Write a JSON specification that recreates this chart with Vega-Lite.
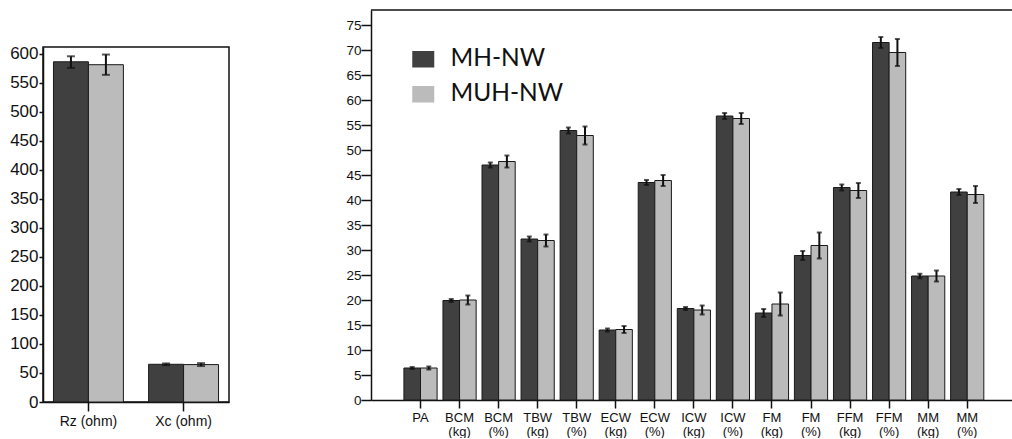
{
  "$schema": "https://vega.github.io/schema/vega-lite/v6.json",
  "padding": {"left": 8, "top": 9, "right": 0, "bottom": 0},
  "background": "white",
  "config": {
    "view": {"stroke": null},
    "axis": {"labelFont": "Liberation Sans", "titleFont": "Liberation Sans", "domainColor": "#111", "tickColor": "#111", "labelColor": "#111", "domainWidth": 1.5, "tickWidth": 1.5, "grid": false}
  },
  "datasets": {
    "imp": [
      {"cat": "Rz (ohm)", "grp": "MH-NW", "mean": 586.5, "lo": 576, "hi": 596},
      {"cat": "Rz (ohm)", "grp": "MUH-NW", "mean": 581.5, "lo": 564, "hi": 599},
      {"cat": "Xc (ohm)", "grp": "MH-NW", "mean": 65, "lo": 63.5, "hi": 66.5},
      {"cat": "Xc (ohm)", "grp": "MUH-NW", "mean": 64.5, "lo": 62, "hi": 67}
    ],
    "comp": [
      {"cat": "PA", "grp": "MH-NW", "mean": 6.4, "lo": 6.2, "hi": 6.6},
      {"cat": "PA", "grp": "MUH-NW", "mean": 6.4, "lo": 6.1, "hi": 6.7},
      {"cat": "BCM (kg)", "grp": "MH-NW", "mean": 19.9, "lo": 19.6, "hi": 20.2},
      {"cat": "BCM (kg)", "grp": "MUH-NW", "mean": 20.0, "lo": 19.1, "hi": 20.9},
      {"cat": "BCM (%)", "grp": "MH-NW", "mean": 47.0, "lo": 46.5, "hi": 47.5},
      {"cat": "BCM (%)", "grp": "MUH-NW", "mean": 47.7, "lo": 46.5, "hi": 48.9},
      {"cat": "TBW (kg)", "grp": "MH-NW", "mean": 32.2, "lo": 31.7, "hi": 32.7},
      {"cat": "TBW (kg)", "grp": "MUH-NW", "mean": 31.9, "lo": 30.7, "hi": 33.1},
      {"cat": "TBW (%)", "grp": "MH-NW", "mean": 53.9, "lo": 53.3, "hi": 54.5},
      {"cat": "TBW (%)", "grp": "MUH-NW", "mean": 52.9, "lo": 51.1, "hi": 54.7},
      {"cat": "ECW (kg)", "grp": "MH-NW", "mean": 14.0, "lo": 13.7, "hi": 14.3},
      {"cat": "ECW (kg)", "grp": "MUH-NW", "mean": 14.1, "lo": 13.4, "hi": 14.8},
      {"cat": "ECW (%)", "grp": "MH-NW", "mean": 43.5, "lo": 43.0, "hi": 44.0},
      {"cat": "ECW (%)", "grp": "MUH-NW", "mean": 43.9, "lo": 42.8, "hi": 45.0},
      {"cat": "ICW (kg)", "grp": "MH-NW", "mean": 18.3, "lo": 18.0, "hi": 18.6},
      {"cat": "ICW (kg)", "grp": "MUH-NW", "mean": 18.0, "lo": 17.1, "hi": 18.9},
      {"cat": "ICW (%)", "grp": "MH-NW", "mean": 56.8, "lo": 56.2, "hi": 57.4},
      {"cat": "ICW (%)", "grp": "MUH-NW", "mean": 56.3, "lo": 55.2, "hi": 57.4},
      {"cat": "FM (kg)", "grp": "MH-NW", "mean": 17.4, "lo": 16.6, "hi": 18.2},
      {"cat": "FM (kg)", "grp": "MUH-NW", "mean": 19.2, "lo": 16.9, "hi": 21.5},
      {"cat": "FM (%)", "grp": "MH-NW", "mean": 28.9, "lo": 28.0, "hi": 29.8},
      {"cat": "FM (%)", "grp": "MUH-NW", "mean": 30.9, "lo": 28.3, "hi": 33.5},
      {"cat": "FFM (kg)", "grp": "MH-NW", "mean": 42.5, "lo": 41.9, "hi": 43.1},
      {"cat": "FFM (kg)", "grp": "MUH-NW", "mean": 41.9, "lo": 40.4, "hi": 43.4},
      {"cat": "FFM (%)", "grp": "MH-NW", "mean": 71.5, "lo": 70.4, "hi": 72.6},
      {"cat": "FFM (%)", "grp": "MUH-NW", "mean": 69.5, "lo": 66.8, "hi": 72.2},
      {"cat": "MM (kg)", "grp": "MH-NW", "mean": 24.8, "lo": 24.35, "hi": 25.25},
      {"cat": "MM (kg)", "grp": "MUH-NW", "mean": 24.8, "lo": 23.7, "hi": 25.9},
      {"cat": "MM (%)", "grp": "MH-NW", "mean": 41.6, "lo": 41.0, "hi": 42.2},
      {"cat": "MM (%)", "grp": "MUH-NW", "mean": 41.1, "lo": 39.4, "hi": 42.8}
    ]
  },
  "hconcat": [
    {
      "spacing": 0,
      "vconcat": [
        {
          "width": 186,
          "height": 34,
          "data": {"values": [{}]},
          "mark": {"type": "text"},
          "encoding": {"text": {"value": ""}}
        },
        {
          "width": 186,
          "height": 355,
          "data": {"name": "imp"},
          "view": {"stroke": "#111", "strokeWidth": 1.5},
          "encoding": {
            "x": {"field": "cat", "type": "nominal", "sort": null, "title": null,
                  "scale": {"paddingInner": 0.265, "paddingOuter": 0.11},
                  "axis": {"labelAngle": 0, "labelFontSize": 14, "tickSize": 9, "labelPadding": 3}},
            "xOffset": {"field": "grp", "type": "nominal", "sort": null, "scale": {"paddingInner": 0, "paddingOuter": 0}}
          },
          "layer": [
            {
              "mark": {"type": "bar", "stroke": "#1a1a1a", "strokeWidth": 1},
              "encoding": {
                "y": {"field": "mean", "type": "quantitative", "title": null,
                      "scale": {"domain": [0, 612], "nice": false},
                      "axis": {"values": [0, 50, 100, 150, 200, 250, 300, 350, 400, 450, 500, 550, 600], "tickCount": 13, "labelFontSize": 17, "tickSize": 4, "labelPadding": 1, "labelOverlap": false}},
                "color": {"field": "grp", "type": "nominal", "sort": null, "legend": null,
                          "scale": {"domain": ["MH-NW", "MUH-NW"], "range": ["#404040", "#bbbbbb"]}}
              }
            },
            {
              "mark": {"type": "rule", "color": "#111", "strokeWidth": 2},
              "encoding": {"y": {"field": "lo", "type": "quantitative", "title": null,
                      "axis": {"values": [0, 50, 100, 150, 200, 250, 300, 350, 400, 450, 500, 550, 600], "tickCount": 13, "labelFontSize": 17, "tickSize": 4, "labelPadding": 1, "labelOverlap": false}},
                           "y2": {"field": "hi"}}
            },
            {
              "mark": {"type": "tick", "orient": "horizontal", "size": 8, "thickness": 2, "color": "#111"},
              "encoding": {"y": {"field": "lo", "type": "quantitative", "title": null,
                      "axis": {"values": [0, 50, 100, 150, 200, 250, 300, 350, 400, 450, 500, 550, 600], "tickCount": 13, "labelFontSize": 17, "tickSize": 4, "labelPadding": 1, "labelOverlap": false}}}
            },
            {
              "mark": {"type": "tick", "orient": "horizontal", "size": 8, "thickness": 2, "color": "#111"},
              "encoding": {"y": {"field": "hi", "type": "quantitative", "title": null,
                      "axis": {"values": [0, 50, 100, 150, 200, 250, 300, 350, 400, 450, 500, 550, 600], "tickCount": 13, "labelFontSize": 17, "tickSize": 4, "labelPadding": 1, "labelOverlap": false}}}
            }
          ]
        }
      ]
    },
    {
      "width": 642,
      "height": 390,
      "data": {"name": "comp"},
      "layer": [
        {
          "data": {"values": [{}]},
          "mark": {"type": "rule", "color": "#111", "strokeWidth": 1.5},
          "encoding": {"y": {"datum": 78, "type": "quantitative", "title": null,
                      "axis": {"values": [0, 5, 10, 15, 20, 25, 30, 35, 40, 45, 50, 55, 60, 65, 70, 75], "tickCount": 16, "labelFontSize": 13.5, "tickSize": 10, "labelPadding": 0, "labelOverlap": false}}}
        },
        {
          "encoding": {
            "x": {"field": "cat", "type": "nominal", "sort": null, "title": null,
                  "scale": {"paddingInner": 0.15, "paddingOuter": 0.795, "align": 0.53},
                  "axis": {"labelAngle": 0, "labelFontSize": 13, "labelExpr": "split(datum.label, ' ')", "labelLineHeight": 14, "tickSize": 8, "labelPadding": 3}},
            "xOffset": {"field": "grp", "type": "nominal", "sort": null, "scale": {"paddingInner": 0, "paddingOuter": 0}},
            "y": {"field": "mean", "type": "quantitative", "title": null,
                  "scale": {"domain": [0, 78], "nice": false},
                  "axis": {"values": [0, 5, 10, 15, 20, 25, 30, 35, 40, 45, 50, 55, 60, 65, 70, 75], "tickCount": 16, "labelFontSize": 13.5, "tickSize": 10, "labelPadding": 0, "labelOverlap": false}}
          },
          "layer": [
            {
              "mark": {"type": "bar", "stroke": "#1a1a1a", "strokeWidth": 1},
              "encoding": {
                "color": {"field": "grp", "type": "nominal", "sort": null,
                          "scale": {"domain": ["MH-NW", "MUH-NW"], "range": ["#404040", "#bbbbbb"]},
                          "legend": {"orient": "none", "legendX": 40, "legendY": 37, "title": null, "padding": 0,
                                     "labelFont": "Lato", "labelFontSize": 24.5, "labelColor": "#111",
                                     "symbolType": "M-1,-0.75H1V0.75H-1Z", "symbolSize": 484, "symbolStrokeWidth": 0, "symbolOpacity": 1,
                                     "labelOffset": 15, "rowPadding": 10}}
              }
            },
            {
              "mark": {"type": "rule", "color": "#111", "strokeWidth": 2},
              "encoding": {"y": {"field": "lo", "type": "quantitative", "title": null}, "y2": {"field": "hi"}}
            },
            {
              "mark": {"type": "tick", "orient": "horizontal", "size": 5, "thickness": 2, "color": "#111"},
              "encoding": {"y": {"field": "lo", "type": "quantitative", "title": null}}
            },
            {
              "mark": {"type": "tick", "orient": "horizontal", "size": 5, "thickness": 2, "color": "#111"},
              "encoding": {"y": {"field": "hi", "type": "quantitative", "title": null}}
            }
          ]
        }
      ]
    }
  ],
  "spacing": 115,
  "resolve": {"scale": {"color": "independent", "x": "independent", "y": "independent", "xOffset": "independent"}, "legend": {"color": "independent"}, "axis": {"x": "independent", "y": "independent"}}
}
